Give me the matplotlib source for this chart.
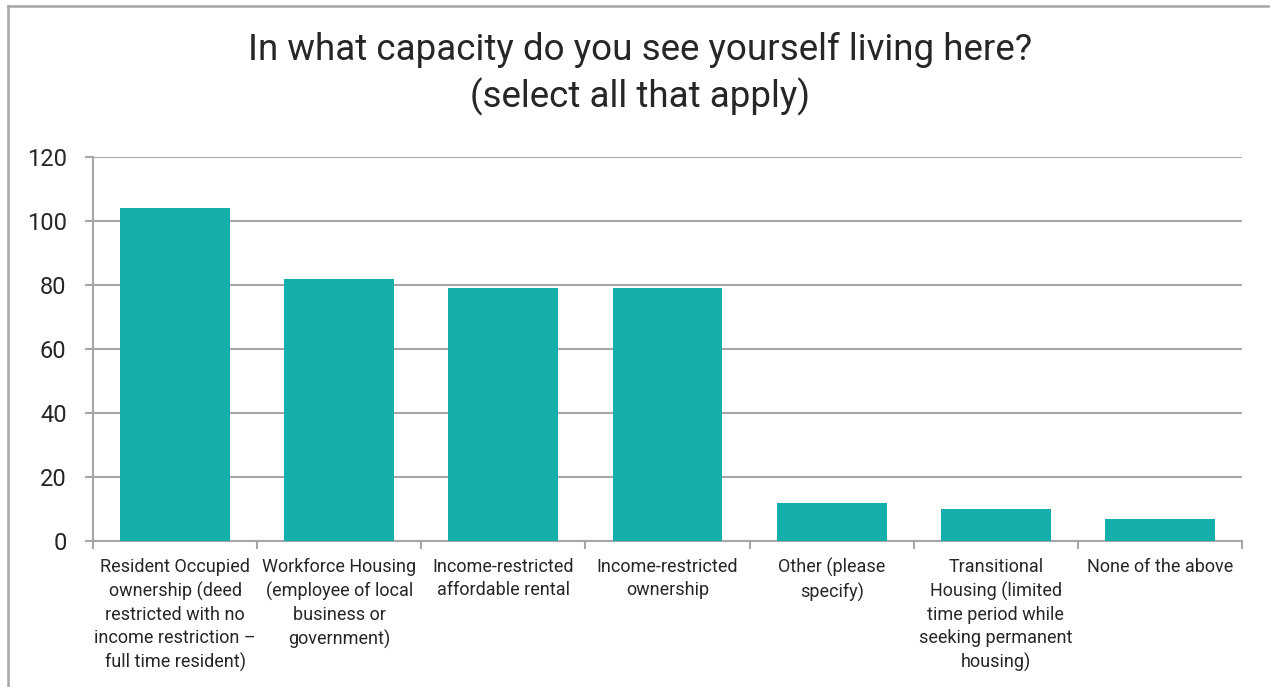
import matplotlib
matplotlib.use("Agg")
import matplotlib.pyplot as plt
from matplotlib.lines import Line2D
import numpy as np

plt.rcParams['font.family'] = ['Roboto', 'DejaVu Sans']

title = "In what capacity do you see yourself living here?\n(select all that apply)"
categories = [
    "Resident Occupied\nownership (deed\nrestricted with no\nincome restriction \u2013\nfull time resident)",
    "Workforce Housing\n(employee of local\nbusiness or\ngovernment)",
    "Income-restricted\naffordable rental",
    "Income-restricted\nownership",
    "Other (please\nspecify)",
    "Transitional\nHousing (limited\ntime period while\nseeking permanent\nhousing)",
    "None of the above",
]
counts = [104, 82, 79, 79, 12, 10, 7]
y_ticks = [0, 20, 40, 60, 80, 100, 120]

bar_color = "#14AFAB"
grid_color = "#A6A6A6"
text_color = "#262626"

W, H = 1270, 687
fig = plt.figure(figsize=(W / 100, H / 100), dpi=100)
fig.patch.set_facecolor("white")

ax = fig.add_axes([93 / W, (H - 541) / H, (1242 - 93) / W, (541 - 157) / H])

x = np.arange(len(categories))
ax.bar(x, counts, width=0.67, color=bar_color, zorder=3)

ax.set_xlim(-0.5, len(categories) - 0.5)
ax.set_ylim(0, 120)
ax.set_yticks(y_ticks)
ax.set_yticklabels([str(v) for v in y_ticks], fontsize=17, color=text_color)
ax.yaxis.grid(True, color=grid_color, linewidth=1.5, zorder=0)
ax.tick_params(axis="y", length=6, width=1.5, color=grid_color, pad=13)

ax.set_xticks(x)
ax.set_xticklabels(categories, fontsize=13, color=text_color, linespacing=1.38, va="top")
ax.tick_params(axis="x", which="major", length=0, pad=12)
ax.set_xticks(np.arange(-0.5, len(categories) + 0.5, 1), minor=True)
ax.tick_params(axis="x", which="minor", length=6, width=1.5, color=grid_color)

for side in ["top", "right"]:
    ax.spines[side].set_visible(False)
for side in ["left", "bottom"]:
    ax.spines[side].set_color(grid_color)
    ax.spines[side].set_linewidth(1.5)

fig.text(640 / W, 1 - 74 / H, title, ha="center", va="center", fontsize=26.5,
         color=text_color, linespacing=1.35)

# outer frame along the left and top edges
fig.add_artist(Line2D([8 / W, 8 / W], [0, 1 - 6 / H], color=grid_color, linewidth=1.8))
fig.add_artist(Line2D([8 / W, 1], [1 - 6 / H, 1 - 6 / H], color=grid_color, linewidth=1.8))

fig.savefig("out.png", dpi=100, facecolor="white")
